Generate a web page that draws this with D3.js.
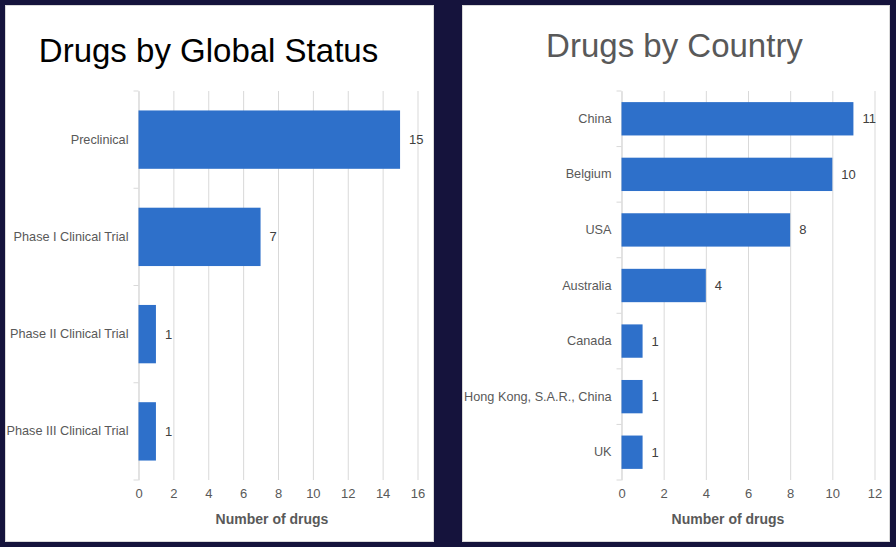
<!DOCTYPE html>
<html><head><meta charset="utf-8">
<script src="https://cdn.jsdelivr.net/npm/d3@7/dist/d3.min.js"></script>
<style>
html,body{margin:0;padding:0;background:#15133c;}
svg{display:block;font-family:"Liberation Sans",Arial,sans-serif;}
</style></head>
<body><svg id="c" width="896" height="547"></svg>
<script>
const statusCategories = ["Preclinical","Phase I Clinical Trial","Phase II Clinical Trial","Phase III Clinical Trial"];
const statusValues = [15,7,1,1];
const statusTicks = [0,2,4,6,8,10,12,14,16];

const countryCategories = ["China","Belgium","USA","Australia","Canada","Hong Kong, S.A.R., China","UK"];
const countryValues = [11,10,8,4,1,1,1];
const countryTicks = [0,2,4,6,8,10,12];

const FONT = "'Liberation Sans', Arial, sans-serif";
const svg = d3.select("#c");
svg.append("rect").attr("width",896).attr("height",547).attr("fill","#15133c");

function panel(o){
  const g = svg.append("g");
  g.append("rect").attr("x",o.px).attr("y",o.py).attr("width",o.pw).attr("height",o.ph)
    .attr("fill","#fff").attr("stroke","#d9d9d9").attr("stroke-width",1);
  g.append("text").attr("x",o.tx).attr("y",o.ty).attr("text-anchor","middle")
    .attr("font-size",33).attr("fill",o.titleColor).text(o.title);
  const x = d3.scaleLinear().domain([0,o.max]).range([o.x0,o.x1]);
  const y = d3.scaleBand().domain(o.cats).range([o.y0,o.y1]).paddingInner(0.4).paddingOuter(0.2);
  const xa = d3.axisBottom(x).tickValues(o.ticks).tickSize(-(o.y1-o.y0)).tickPadding(9);
  const gx = g.append("g").attr("transform",`translate(0,${o.y1})`).call(xa);
  gx.select(".domain").remove();
  gx.selectAll(".tick line").attr("stroke","#d9d9d9");
  gx.selectAll(".tick text").attr("font-size",13).attr("fill","#595959").attr("font-family",FONT);
  const ya = d3.axisLeft(y).tickSize(0).tickPadding(10);
  const gy = g.append("g").attr("transform",`translate(${o.x0},0)`).call(ya);
  gy.select(".domain").attr("stroke","#d9d9d9");
  gy.selectAll(".tick text").attr("font-size",12.7).attr("fill","#595959").attr("font-family",FONT);
  const step = (o.y1-o.y0)/o.cats.length;
  g.selectAll(".ctick").data(d3.range(o.cats.length+1)).enter().append("line")
    .attr("x1",o.x0-5).attr("x2",o.x0).attr("y1",i=>o.y0+i*step).attr("y2",i=>o.y0+i*step)
    .attr("stroke","#d9d9d9");
  g.selectAll(".bar").data(o.vals).enter().append("rect")
    .attr("x",x(0)).attr("y",(d,i)=>y(o.cats[i])).attr("width",d=>x(d)-x(0)).attr("height",y.bandwidth())
    .attr("fill","#2e70ca");
  g.selectAll(".lbl").data(o.vals).enter().append("text")
    .attr("x",d=>x(d)+9).attr("y",(d,i)=>y(o.cats[i])+y.bandwidth()/2).attr("dy","0.35em")
    .attr("font-size",13).attr("fill","#404040").text(d=>d);
  g.append("text").attr("x",o.axx).attr("y",o.y1+44).attr("text-anchor","middle")
    .attr("font-size",14).attr("font-weight","bold").attr("fill","#595959").text("Number of drugs");
}

panel({px:5.5,py:5.5,pw:428,ph:536,tx:208.5,ty:62,title:"Drugs by Global Status",titleColor:"#000",
  x0:138.5,x1:417.5,y0:91,y1:480,max:16,ticks:statusTicks,cats:statusCategories,vals:statusValues,axx:272});
panel({px:462.5,py:5.5,pw:427,ph:536,tx:674.5,ty:57,title:"Drugs by Country",titleColor:"#595959",
  x0:621.5,x1:874.5,y0:91,y1:480,max:12,ticks:countryTicks,cats:countryCategories,vals:countryValues,axx:728});
</script></body></html>
